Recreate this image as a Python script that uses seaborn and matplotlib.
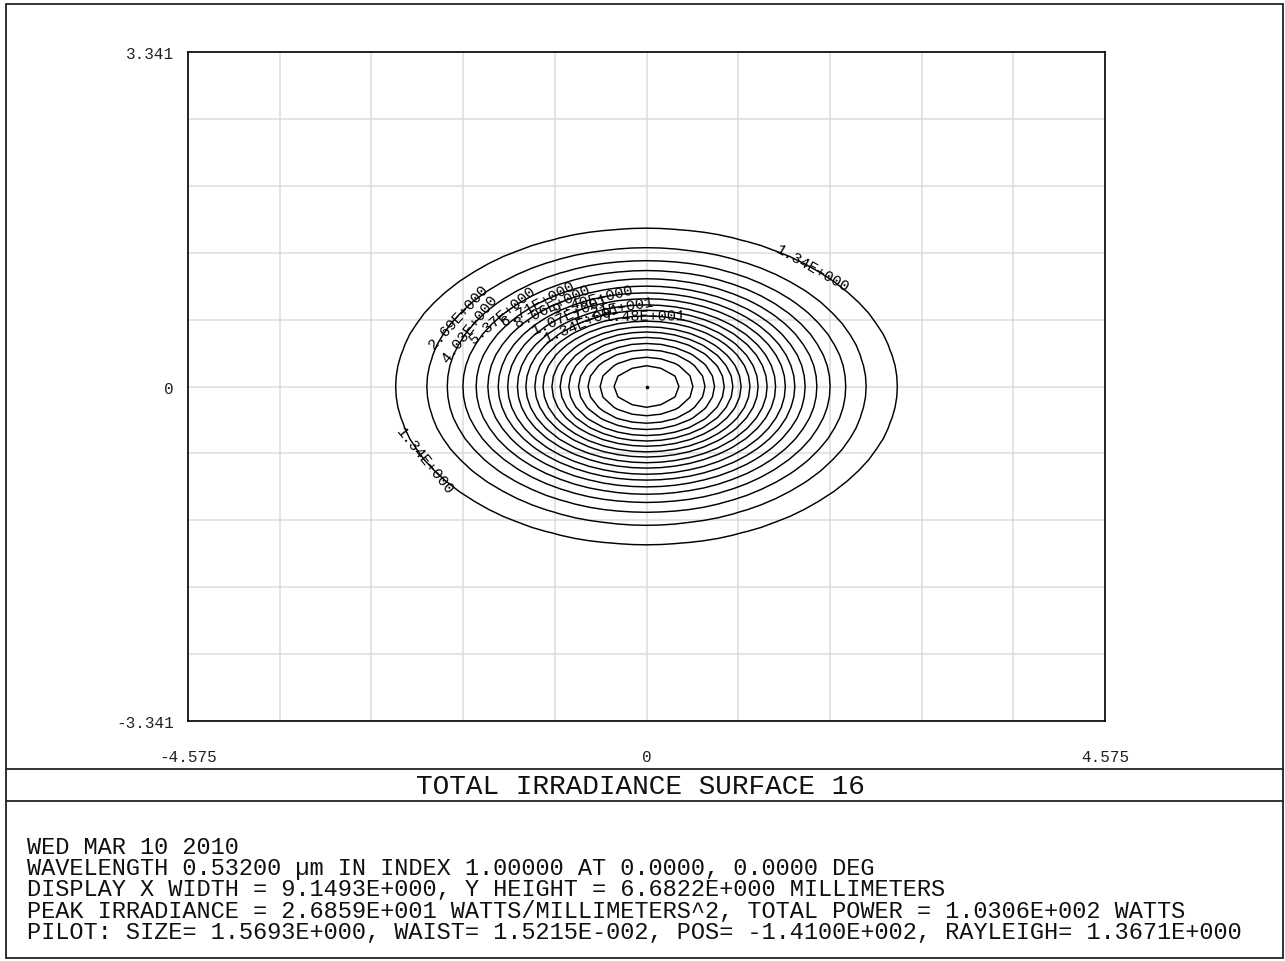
import numpy as np
import matplotlib
matplotlib.use("Agg")
import matplotlib.pyplot as plt
import seaborn as sns
from matplotlib.lines import Line2D
from matplotlib.patches import Rectangle

# ---- beam / detector description (mm, W/mm^2) ----
peak_irradiance = 26.859
beam_radius_x = 2.04      # 1/e^2 radius along x
beam_radius_y = 1.29      # 1/e^2 radius along y
half_width = 4.575
half_height = 3.341
n_samples = 65

contour_levels = [1.34, 2.69, 4.03, 5.37, 6.71, 8.06, 9.40, 10.7, 12.1, 13.4,
                  14.8, 16.1, 17.5, 18.8, 20.1, 21.5, 22.8, 24.2, 25.5]

# contour levels that carry a value label, and roughly where the label sits
label_levels = [1.34, 1.34, 2.69, 4.03, 5.37, 6.71, 8.06, 9.40, 10.7, 12.1, 13.4, 14.8]
label_x = [1.68, -2.31, -1.97, -1.85, -1.50, -1.12, -0.98, -0.55, -0.80, -0.35, -0.65, -0.02]
label_y = [1.22, -0.83, 0.79, 0.65, 0.79, 0.91, 0.90, 0.95, 0.80, 0.90, 0.67, 0.76]

x_tick_labels = ["-4.575", "0", "4.575"]
y_tick_labels = ["-3.341", "0", "3.341"]

title_text = "TOTAL IRRADIANCE SURFACE 16"
info_lines = [
    "WED MAR 10 2010",
    "WAVELENGTH 0.53200 µm IN INDEX 1.00000 AT 0.0000, 0.0000 DEG",
    "DISPLAY X WIDTH = 9.1493E+000, Y HEIGHT = 6.6822E+000 MILLIMETERS",
    "PEAK IRRADIANCE = 2.6859E+001 WATTS/MILLIMETERS^2, TOTAL POWER = 1.0306E+002 WATTS",
    "PILOT: SIZE= 1.5693E+000, WAIST= 1.5215E-002, POS= -1.4100E+002, RAYLEIGH= 1.3671E+000",
]

# ---- styling ----
sns.set_theme(style="white")
plt.rcParams["font.family"] = ["Liberation Mono", "DejaVu Sans Mono", "DejaVu Sans"]

W, H = 1285, 962
fig = plt.figure(figsize=(W / 100, H / 100), dpi=100)
ax = fig.add_axes([188 / W, 1 - 722 / H, (1105 - 188) / W, (722 - 53) / H])

# irradiance sampled on the detector grid
xs = np.linspace(-half_width, half_width, n_samples)
ys = np.linspace(-half_height, half_height, n_samples)
X, Y = np.meshgrid(xs, ys)
irradiance = peak_irradiance * np.exp(-2 * (X / beam_radius_x) ** 2 - 2 * (Y / beam_radius_y) ** 2)

ax.set_xlim(-half_width, half_width)
ax.set_ylim(-half_height, half_height)

cs = ax.contour(X, Y, irradiance, levels=contour_levels, colors="black", linewidths=1.05)
ax.plot([0], [0], marker="o", ms=1.6, color="black", zorder=3)


def sci_label(v):
    e = int(np.floor(np.log10(abs(v))))
    m = v / 10 ** e
    return f"{m:.2f}E{e:+04d}"


# each labelled level gets its own (undrawn) contour set so the label snaps to it
for lev, lx, ly in zip(label_levels, label_x, label_y):
    single = ax.contour(X, Y, irradiance, levels=[lev], colors="black", linewidths=0)
    single.clabel(manual=[(lx, ly)], inline=False, fmt=sci_label,
                  fontsize=11, colors="black")

# grid: ten divisions each way
ax.set_xticks(np.linspace(-half_width, half_width, 11))
ax.set_yticks(np.linspace(-half_height, half_height, 11))
ax.set_xticklabels([x_tick_labels[0]] + [""] * 4 + [x_tick_labels[1]] + [""] * 4 + [x_tick_labels[2]])
ax.set_yticklabels([y_tick_labels[0]] + [""] * 4 + [y_tick_labels[1]] + [""] * 4 + [y_tick_labels[2]])
ax.tick_params(axis="both", length=0, labelsize=11.5, colors="#222222")
ax.tick_params(axis="x", pad=20)
ax.tick_params(axis="y", pad=10)
ax.grid(True, color="#dcdcdc", linewidth=1.1)
ax.set_axisbelow(True)
for sp in ax.spines.values():
    sp.set_visible(True)
    sp.set_color("black")
    sp.set_linewidth(1.2)

# frame and title band
fig.add_artist(Rectangle((6 / W, 1 - 959 / H), (1283 - 6) / W, (959 - 5) / H,
                         transform=fig.transFigure, fill=False, edgecolor="#222222", linewidth=1.3))
for yy in (770, 802):
    fig.add_artist(Line2D([6 / W, 1283 / W], [1 - yy / H, 1 - yy / H],
                          transform=fig.transFigure, color="#222222", linewidth=1.3))

fig.text(640 / W, 1 - 787 / H, title_text, ha="center", va="center", fontsize=20, color="#111111")

# information block, one text with tight line pitch
fig.text(27 / W, 1 - 836 / H, "\n".join(info_lines), ha="left", va="top",
         fontsize=17, linespacing=0.9, color="#111111")

fig.savefig("out.png", dpi=100, facecolor="white")
